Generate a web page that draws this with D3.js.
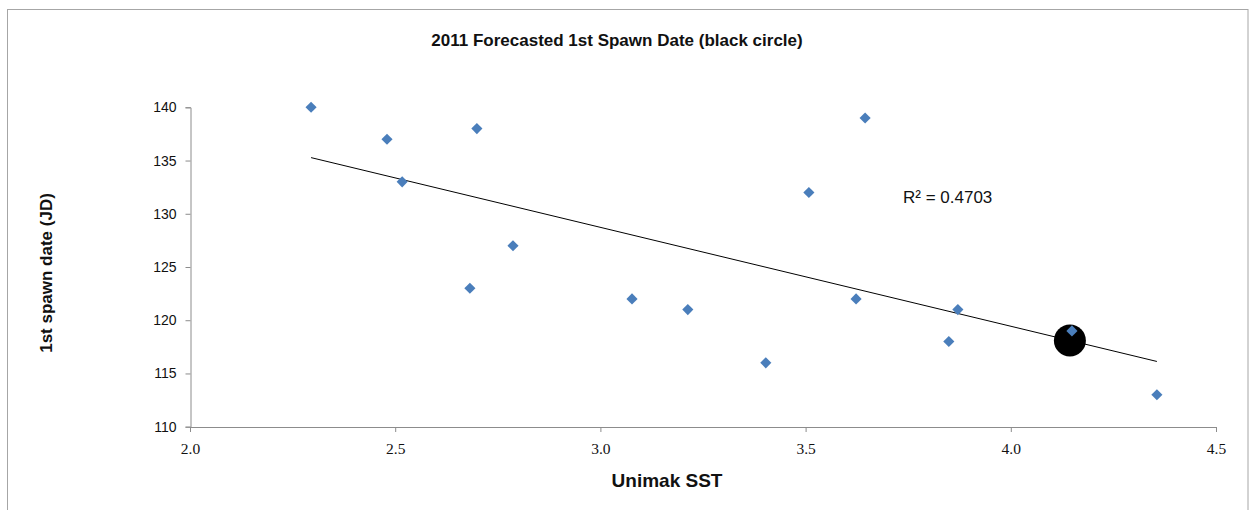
<!DOCTYPE html>
<html>
<head>
<meta charset="utf-8">
<script src="https://cdn.jsdelivr.net/npm/d3@7"></script>
<style>
  html, body { margin: 0; padding: 0; background: #fff; }
  svg { display: block; }
</style>
</head>
<body>
<svg id="chart" width="1253" height="510"></svg>
<script>
// ---- data ----
const sst = [2.295, 2.48, 2.517, 2.699, 2.682, 2.787, 3.077, 3.213, 3.403, 3.508, 3.623, 3.645, 3.849, 3.871, 4.149, 4.356];
const spawnDate = [140, 137, 133, 138, 123, 127, 122, 121, 116, 132, 122, 139, 118, 121, 119, 113];
const forecastSST = [4.144];
const forecastDate = [118.1];
const xTicks = [2.0, 2.5, 3.0, 3.5, 4.0, 4.5];
const yTicks = [110, 115, 120, 125, 130, 135, 140];
const r2Text = "R\u00B2 = 0.4703";
const titleText = "2011 Forecasted 1st Spawn Date (black circle)";
const xTitle = "Unimak SST";
const yTitle = "1st spawn date (JD)";

const svg = d3.select("#chart");

// outer frame
svg.append("rect")
  .attr("x", 7.5).attr("y", 9.5)
  .attr("width", 1240.5).attr("height", 520)
  .attr("fill", "none").attr("stroke", "#a6a6a6").attr("stroke-width", 1);

const x = d3.scaleLinear().domain([2.0, 4.5]).range([190, 1216]);
const y = d3.scaleLinear().domain([110, 140]).range([426.7, 107.3]);

const axisColor = "#8c8c8c";

// y axis
const gy = svg.append("g").attr("transform", "translate(190.5,0)")
  .call(d3.axisLeft(y).tickValues(yTicks).tickFormat(d3.format("d")).tickSize(5).tickPadding(9));
gy.select(".domain").attr("stroke", axisColor);
gy.selectAll(".tick line").attr("stroke", axisColor);
gy.selectAll(".tick text").attr("font-family", "'Liberation Sans', Arial, sans-serif")
  .attr("font-size", 14).attr("fill", "#111");

// x axis
const gx = svg.append("g").attr("transform", "translate(0,427)")
  .call(d3.axisBottom(x).tickValues(xTicks).tickFormat(d3.format(".1f")).tickSize(5).tickPadding(11));
gx.select(".domain").attr("stroke", axisColor);
gx.selectAll(".tick line").attr("stroke", axisColor);
gx.selectAll(".tick text").attr("font-family", "'Liberation Serif', 'Times New Roman', serif")
  .attr("font-size", 15.5).attr("fill", "#111");

// forecast black circle (drawn beneath the diamonds)
svg.selectAll("circle.forecast").data(forecastSST).join("circle")
  .attr("class", "forecast")
  .attr("cx", d => x(d))
  .attr("cy", (d, i) => y(forecastDate[i]))
  .attr("r", 16)
  .attr("fill", "#000");

// linear trendline computed from the data
const pts = sst.map((v, i) => [v, spawnDate[i]]);
const mx = d3.mean(sst), my = d3.mean(spawnDate);
const sxy = d3.sum(pts, p => (p[0] - mx) * (p[1] - my));
const sxx = d3.sum(pts, p => (p[0] - mx) ** 2);
const slope = sxy / sxx, intercept = my - slope * mx;
const xExt = d3.extent(sst);
svg.append("path")
  .datum(xExt.map(v => [v, intercept + slope * v]))
  .attr("d", d3.line().x(d => x(d[0])).y(d => y(d[1])))
  .attr("stroke", "#000").attr("stroke-width", 1).attr("fill", "none");

// diamond markers
const diamond = d3.symbol().type(d3.symbolSquare).size(62);
svg.selectAll("path.pt").data(pts).join("path")
  .attr("class", "pt")
  .attr("d", diamond)
  .attr("transform", d => `translate(${x(d[0])},${y(d[1])}) rotate(45)`)
  .attr("fill", "#4a7ebb");

// R² label
svg.append("text")
  .attr("x", 903).attr("y", 203)
  .attr("font-family", "'Liberation Sans', Arial, sans-serif")
  .attr("font-size", 17).attr("fill", "#111")
  .text(r2Text);

// title
svg.append("text")
  .attr("x", 617).attr("y", 46)
  .attr("text-anchor", "middle")
  .attr("font-family", "'Liberation Sans', Arial, sans-serif")
  .attr("font-weight", "bold").attr("font-size", 17).attr("fill", "#111")
  .text(titleText);

// x title
svg.append("text")
  .attr("x", 667).attr("y", 487)
  .attr("text-anchor", "middle")
  .attr("font-family", "'Liberation Sans', Arial, sans-serif")
  .attr("font-weight", "bold").attr("font-size", 19).attr("fill", "#111")
  .text(xTitle);

// y title
svg.append("text")
  .attr("transform", "translate(52,273) rotate(-90)")
  .attr("text-anchor", "middle")
  .attr("font-family", "'Liberation Sans', Arial, sans-serif")
  .attr("font-weight", "bold").attr("font-size", 17).attr("fill", "#111")
  .text(yTitle);
</script>
</body>
</html>
